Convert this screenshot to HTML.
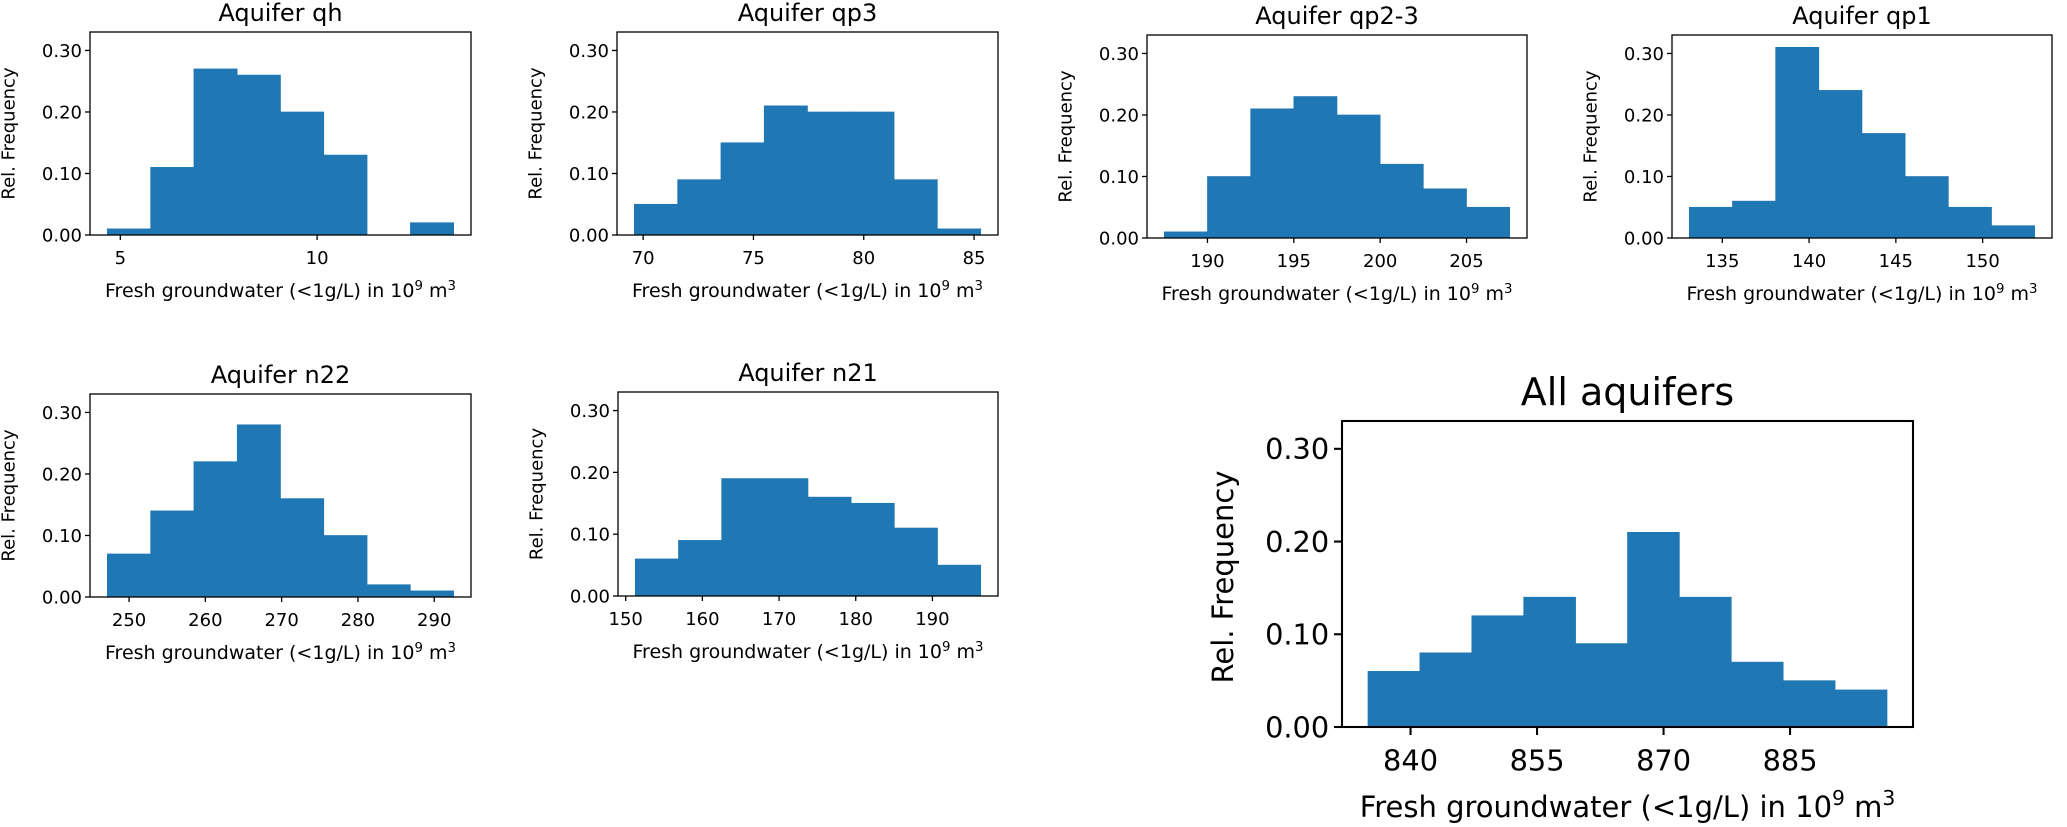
<!DOCTYPE html>
<html><head><meta charset="utf-8"><style>
html,body{margin:0;padding:0;background:#fff;}
svg{display:block;font-family:"DejaVu Sans","Liberation Sans",sans-serif;}
</style></head><body>
<svg id="fig" width="2067" height="827" viewBox="0 0 2067 827" xmlns="http://www.w3.org/2000/svg"></svg>
<script>
// ---- data ----
const qhFreq   = [0.01,0.11,0.27,0.26,0.20,0.13,0.00,0.02];
const qhRange  = [4.67,13.47];
const qhTicks  = [5,10];
const qp3Freq  = [0.05,0.09,0.15,0.21,0.20,0.20,0.09,0.01];
const qp3Range = [69.6,85.3];
const qp3Ticks = [70,75,80,85];
const qp23Freq  = [0.01,0.10,0.21,0.23,0.20,0.12,0.08,0.05];
const qp23Range = [187.5,207.5];
const qp23Ticks = [190,195,200,205];
const qp1Freq  = [0.05,0.06,0.31,0.24,0.17,0.10,0.05,0.02];
const qp1Range = [133.1,153.0];
const qp1Ticks = [135,140,145,150];
const n22Freq  = [0.07,0.14,0.22,0.28,0.16,0.10,0.02,0.01];
const n22Range = [247.15,292.55];
const n22Ticks = [250,260,270,280,290];
const n21Freq  = [0.06,0.09,0.19,0.19,0.16,0.15,0.11,0.05];
const n21Range = [151.25,196.3];
const n21Ticks = [150,160,170,180,190];
const allFreq  = [0.06,0.08,0.12,0.14,0.09,0.21,0.14,0.07,0.05,0.04];
const allRange = [834.95,896.5];
const allTicks = [840,855,870,885];
const yTicks = [0,0.1,0.2,0.3];
const yTickLabels = ["0.00","0.10","0.20","0.30"];
const yMax = 0.33;

const NS="http://www.w3.org/2000/svg";
const svg=document.getElementById('fig');
function mk(tag,attrs,parent){const e=document.createElementNS(NS,tag);for(const k in attrs)e.setAttribute(k,attrs[k]);(parent||svg).appendChild(e);return e;}

function panel(id,title,freq,range,ticks,box,s){
  const g=mk('g',{});
  
  
  const [L,T,R,B]=box;
  const w=R-L, m=(range[1]-range[0])*0.05;
  const x0=range[0]-m, x1=range[1]+m;
  const X=v=>L+(v-x0)/(x1-x0)*w;
  const Y=v=>B-v/yMax*(B-T);
  const bw=(range[1]-range[0])/freq.length;
  freq.forEach((f,i)=>{
    if(f<=0) return;
    const a=X(range[0]+i*bw), b=X(range[0]+(i+1)*bw);
    const r=mk('rect',{x:a,y:Y(f),width:b-a,height:B-Y(f),fill:'#1f77b4',stroke:'#1f77b4','stroke-width':0.6},g);
    
    
  });
  const fs=18*s, tl=5*s, lw=1.3*s;
  mk('rect',{x:L,y:T,width:w,height:B-T,fill:'none',stroke:'#000','stroke-width':lw},g);
  ticks.forEach(t=>{
    const x=X(t);
    mk('line',{x1:x,y1:B,x2:x,y2:B+tl,stroke:'#000','stroke-width':lw},g);
    const tx=mk('text',{x:x,y:B+29*s-(s>1?3:0),'font-size':fs,'text-anchor':'middle'},g);
    tx.textContent=t;
    
    
  });
  yTicks.forEach((t,i)=>{
    const y=Y(t);
    mk('line',{x1:L-tl,y1:y,x2:L,y2:y,stroke:'#000','stroke-width':lw},g);
    const tx=mk('text',{x:L-tl-3*s,y:y+6.5*s,'font-size':fs,'text-anchor':'end'},g);
    tx.textContent=yTickLabels[i];
    
    
  });
  const tt=mk('text',{x:(L+R)/2,y:T-(s>1?16:11),'font-size':(s>1?38:24),'text-anchor':'middle'},g);
  tt.textContent=title;
  
  
  const xl=mk('text',{x:(L+R)/2,y:B+(s>1?90:62),'font-size':(s>1?29:19),'text-anchor':'middle'},g);
  xl.innerHTML='Fresh groundwater (&lt;1g/L) in 10<tspan baseline-shift="super" font-size="0.7em">9</tspan> m<tspan baseline-shift="super" font-size="0.7em">3</tspan>';
  
  
  const cx=L-(s>1?119:81), cy=(T+B)/2+(s>1?3:0);
  const yl=mk('text',{x:cx,y:cy,'font-size':(s>1?29:18),'text-anchor':'middle','dominant-baseline':'central',transform:`rotate(-90 ${cx} ${cy})`},g);
  yl.textContent='Rel. Frequency';
  
  
}
panel('qh','Aquifer qh',qhFreq,qhRange,qhTicks,[90,32,471,235],1);
panel('qp3','Aquifer qp3',qp3Freq,qp3Range,qp3Ticks,[617,32,998,235],1);
panel('qp2-3','Aquifer qp2-3',qp23Freq,qp23Range,qp23Ticks,[1147,35,1527,238],1);
panel('qp1','Aquifer qp1',qp1Freq,qp1Range,qp1Ticks,[1672,35,2052,238],1);
panel('n22','Aquifer n22',n22Freq,n22Range,n22Ticks,[90,394,471,597],1);
panel('n21','Aquifer n21',n21Freq,n21Range,n21Ticks,[618,392,998,596],1);
panel('all','All aquifers',allFreq,allRange,allTicks,[1342,421,1913,727],1.6);
</script>
</body></html>
